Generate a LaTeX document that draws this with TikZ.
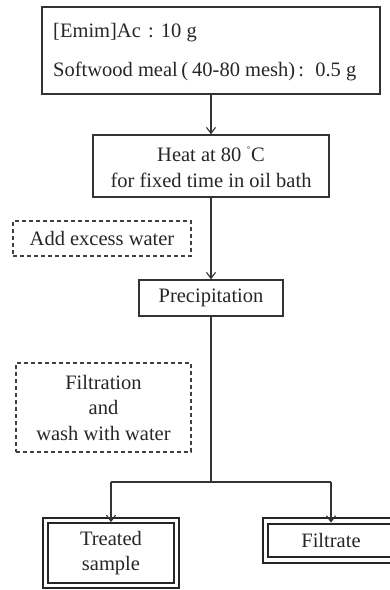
\documentclass[tikz,border=0pt]{standalone}
\usepackage{fontspec}
\setmainfont{Liberation Serif}
\usetikzlibrary{arrows.meta}
\begin{document}
\begin{tikzpicture}[x=1pt,y=-1pt,
  every node/.style={font=\fontsize{20.5}{25.5}\selectfont, text=black!85, inner sep=0pt, align=center},
  solidbox/.style={draw=black!80, line width=1.5pt, rectangle},
  dashbox/.style={draw=black!75, line width=1.1pt, dash pattern=on 4pt off 3pt, rectangle},
  dblbox/.style={draw=black!85, double=white, line width=1.8pt, double distance=3.6pt, rectangle},
  conn/.style={draw=black!80, line width=1.1pt},
  arr/.style={conn, -{Straight Barb[length=6pt,width=9pt,line width=1.1pt]}}]
\useasboundingbox (0,0) rectangle (390,590);
\clip (0,0) rectangle (390,590);
% top box
\node[solidbox, minimum width=338pt, minimum height=87pt] (top) at (211,50.5) {};
\node[anchor=west] (t1) at (53,33) {[Emim]Ac\hspace{0.35em}:\hspace{0.35em}10 g};
\node[anchor=west] (t2) at (53,71) {Softwood meal\,(\hspace{0.2em}40-80 mesh)\hspace{0.15em}:\hspace{0.55em}0.5 g};
% heat
\node[solidbox, minimum width=236pt, minimum height=62pt] (heat) at (211,166) {};
\node (h1) at (211,154) {Heat at 80 \textsuperscript{\raisebox{-0.2ex}{\fontsize{12}{12}\selectfont\char"02DA}}C};
\node (h2) at (211,180) {for fixed time in oil bath};
% add excess water
\node[dashbox, minimum width=178pt, minimum height=35pt] (add) at (102,238.5) {Add excess water};
% precipitation
\node[solidbox, minimum width=144pt, minimum height=36pt] (prec) at (211,298) {Precipitation};
% filtration
\node[dashbox, minimum width=175pt, minimum height=89pt] (filt) at (103.5,407.5) {Filtration\\and\\wash with water};
% products
\node[dblbox, minimum width=131pt, minimum height=65pt] (treat) at (111,553) {Treated\\sample};
\node[dblbox, minimum width=131pt, minimum height=39pt] (filtrate) at (331,540.5) {Filtrate};
% connectors
\coordinate (j) at (211,482);
\coordinate (jl) at (111,482);
\coordinate (jr) at (331,482);
\draw[arr] (top.south) -- (heat.north);
\draw[arr] (heat.south) -- (prec.north);
\draw[conn] (prec.south) -- (j);
\draw[conn] (jl) -- (jr);
\draw[arr] (jl) -- ([yshift=-2.5pt]treat.north);
\draw[arr] (jr) -- ([yshift=-2.5pt]filtrate.north);
\end{tikzpicture}
\end{document}
